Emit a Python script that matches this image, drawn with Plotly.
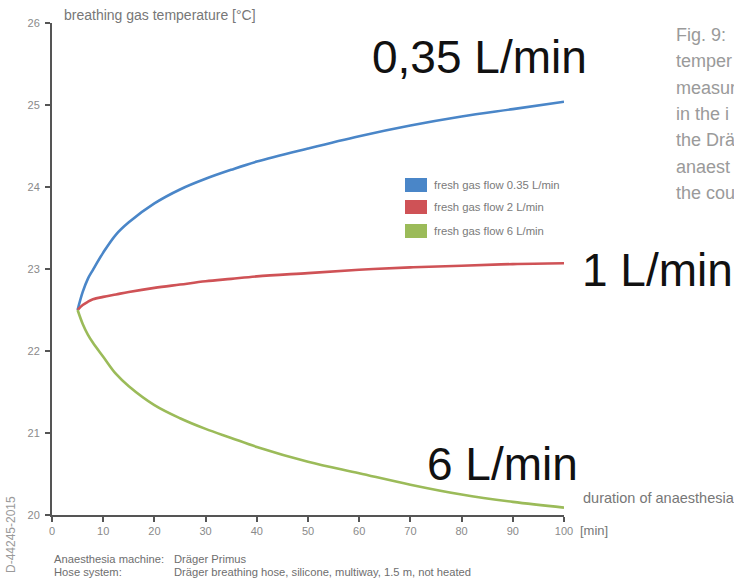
import plotly.graph_objects as go

# ---- data ----
t_min = [5, 6, 7, 8, 10, 12.5, 15, 20, 25, 30, 35, 40, 50, 60, 70, 80, 90, 100]
flow_035 = [22.5, 22.72, 22.88, 22.99, 23.2, 23.42, 23.57, 23.8, 23.97, 24.1, 24.21, 24.31, 24.47,
            24.62, 24.75, 24.86, 24.95, 25.04]
flow_2 = [22.5, 22.56, 22.6, 22.63, 22.66, 22.69, 22.72, 22.77, 22.81, 22.85, 22.88, 22.91, 22.95,
          22.99, 23.02, 23.04, 23.06, 23.07]
flow_6 = [22.5, 22.33, 22.2, 22.1, 21.93, 21.72, 21.57, 21.34, 21.18, 21.05, 20.94, 20.83, 20.65,
          20.51, 20.37, 20.25, 20.16, 20.09]

series_names = ["fresh gas flow 0.35 L/min", "fresh gas flow 2 L/min", "fresh gas flow 6 L/min"]
series_values = [flow_035, flow_2, flow_6]
series_colors = ["#4a86c8", "#cf5256", "#9bbb59"]

x_ticks = [0, 10, 20, 30, 40, 50, 60, 70, 80, 90, 100]
y_ticks = [20, 21, 22, 23, 24, 25, 26]

caption_lines = ["Fig. 9:", "temper", "measur", "in the i", "the Drä", "anaest", "the cou"]

FONT = "Liberation Sans, Arial, sans-serif"
W, H = 734, 582
ML, MR, MT, MB = 52, 170, 23, 67
PW, PH = W - ML - MR, H - MT - MB


def px(xp):
    return (xp - ML) / PW


def py(yp):
    return 1 - (yp - MT) / PH


fig = go.Figure()
for name, vals, col in zip(series_names, series_values, series_colors):
    fig.add_trace(go.Scatter(x=t_min, y=vals, mode="lines", name=name,
                             line=dict(color=col, width=2.6, shape="spline", smoothing=1.0),
                             showlegend=False))

shapes = []
annotations = []

# manual legend (coloured squares)
leg_y = [185, 207, 231]
for name, col, yy in zip(series_names, series_colors, leg_y):
    shapes.append(dict(type="rect", xref="paper", yref="paper",
                       x0=px(405), x1=px(427), y0=py(yy + 7), y1=py(yy - 7),
                       fillcolor=col, line=dict(width=0)))
    annotations.append(dict(text=name, xref="paper", yref="paper", x=px(432), y=py(yy),
                            xanchor="left", yanchor="middle", showarrow=False,
                            font=dict(family=FONT, size=11.3, color="#7a7a7a")))

# axis titles
gray_title = "#777777"
annotations.append(dict(text="breathing gas temperature [°C]", xref="paper", yref="paper",
                        x=px(62), y=py(15), xanchor="left", yanchor="middle", showarrow=False,
                        font=dict(family=FONT, size=14, color=gray_title)))
annotations.append(dict(text="duration of anaesthesia", xref="paper", yref="paper",
                        x=px(581), y=py(498), xanchor="left", yanchor="middle", showarrow=False,
                        font=dict(family=FONT, size=14.5, color=gray_title)))
annotations.append(dict(text="[min]", xref="paper", yref="paper",
                        x=px(578), y=py(530), xanchor="left", yanchor="middle", showarrow=False,
                        font=dict(family=FONT, size=13, color=gray_title)))

# big labels
big = dict(family=FONT, size=46, color="#111111")
annotations.append(dict(text="0,35 L/min", xref="paper", yref="paper", x=px(370), y=py(57),
                        xanchor="left", yanchor="middle", showarrow=False, font=big))
annotations.append(dict(text="1 L/min", xref="paper", yref="paper", x=px(580), y=py(270),
                        xanchor="left", yanchor="middle", showarrow=False, font=big))
annotations.append(dict(text="6 L/min", xref="paper", yref="paper", x=px(425), y=py(464),
                        xanchor="left", yanchor="middle", showarrow=False, font=big))

# caption (cut by page edge)
for i, line in enumerate(caption_lines):
    annotations.append(dict(text=line, xref="paper", yref="paper", x=px(674), y=py(35 + i * 26.3),
                            xanchor="left", yanchor="middle", showarrow=False,
                            font=dict(family=FONT, size=18, color="#9a9a9a")))

# footer notes
foot = dict(family=FONT, size=11.2, color="#6e6e6e")
annotations.append(dict(text="Anaesthesia machine:", xref="paper", yref="paper", x=px(52), y=py(559),
                        xanchor="left", yanchor="middle", showarrow=False, font=foot))
annotations.append(dict(text="Dräger Primus", xref="paper", yref="paper", x=px(172), y=py(559),
                        xanchor="left", yanchor="middle", showarrow=False, font=foot))
annotations.append(dict(text="Hose system:", xref="paper", yref="paper", x=px(52), y=py(572),
                        xanchor="left", yanchor="middle", showarrow=False, font=foot))
annotations.append(dict(text="Dräger breathing hose, silicone, multiway, 1.5 m, not heated", xref="paper",
                        yref="paper", x=px(172), y=py(572),
                        xanchor="left", yanchor="middle", showarrow=False, font=foot))
annotations.append(dict(text="D-44245-2015", xref="paper", yref="paper", x=px(11), y=py(535),
                        xanchor="center", yanchor="middle", showarrow=False, textangle=-90,
                        font=dict(family=FONT, size=12, color="#9a9a9a")))

axis_common = dict(showgrid=False, zeroline=False, showline=True, linecolor="#555555", linewidth=2,
                   ticks="outside", ticklen=5, tickwidth=1.5, tickcolor="#555555",
                   tickfont=dict(family=FONT, size=11, color="#8a8a8a"))

fig.update_layout(
    width=W, height=H,
    margin=dict(l=ML, r=MR, t=MT, b=MB, pad=0),
    paper_bgcolor="white", plot_bgcolor="white",
    xaxis=dict(range=[0, 100], tickvals=x_ticks, ticktext=[str(v) for v in x_ticks], **axis_common),
    yaxis=dict(range=[20, 26], tickvals=y_ticks, ticktext=[str(v) for v in y_ticks],
               ticklabelstandoff=3, **axis_common),
    shapes=shapes, annotations=annotations, showlegend=False,
)

fig.write_html("out.html")
